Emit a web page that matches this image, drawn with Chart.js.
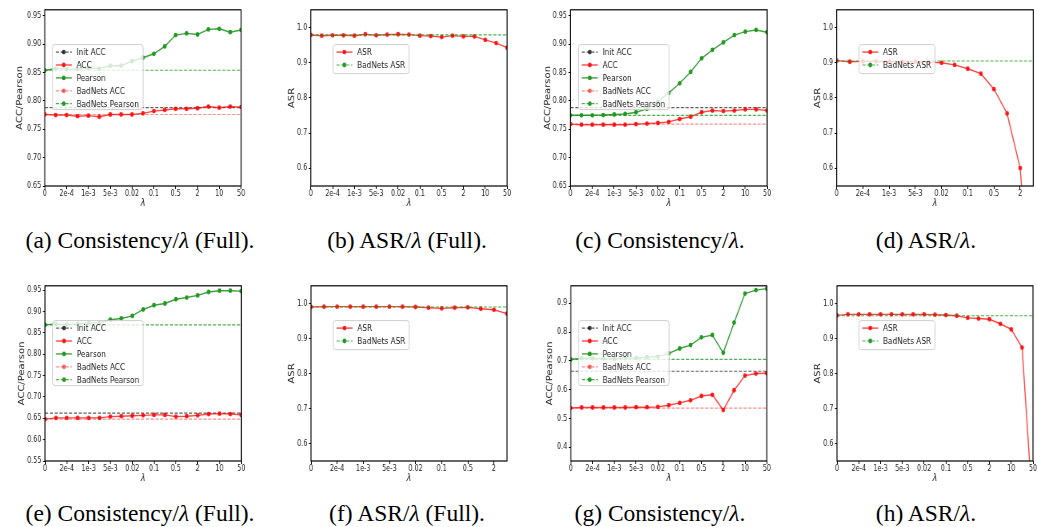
<!DOCTYPE html>
<html><head><meta charset="utf-8">
<script src="https://cdn.jsdelivr.net/npm/chart.js@4"></script>
<style>
html,body{margin:0;padding:0;background:#fff;}
body{width:1037px;height:527px;position:relative;overflow:hidden;}
canvas{position:absolute;transform-origin:0 0;}
.cap{position:absolute;font-family:"Liberation Serif","Times New Roman",serif;font-size:23.5px;line-height:24px;color:#000;white-space:nowrap;transform:translateX(-50%);}
</style></head><body>
<script>
// ---------- categories ----------
const lambdas = ['0','1e-4','2e-4','5e-4','1e-3','2e-3','5e-3','0.01','0.02','0.05','0.1','0.2','0.5','1','2','5','10','20','50'];
const lambdasShort = lambdas.slice(0, 16);

// ---------- (a) Consistency (Full) ----------
const aAcc = [0.776,0.775,0.775,0.773,0.774,0.772,0.776,0.776,0.776,0.778,0.782,0.784,0.786,0.786,0.787,0.790,0.788,0.790,0.789];
const aPearson = [0.8535,0.857,0.856,0.856,0.858,0.857,0.862,0.862,0.870,0.876,0.883,0.896,0.916,0.919,0.917,0.926,0.927,0.921,0.925];
const aInitAcc = 0.788, aBadAcc = 0.776, aBadPearson = 0.854;

// ---------- (b) ASR (Full) ----------
const bAsr = [0.979,0.977,0.978,0.978,0.977,0.981,0.978,0.980,0.981,0.980,0.977,0.976,0.973,0.977,0.975,0.975,0.965,0.956,0.943];
const bBadAsr = 0.979;

// ---------- (c) Consistency ----------
const cAcc = [0.759,0.758,0.758,0.758,0.758,0.758,0.759,0.760,0.761,0.763,0.768,0.772,0.780,0.783,0.782,0.783,0.785,0.785,0.783];
const cPearson = [0.7746,0.7746,0.7746,0.775,0.776,0.777,0.780,0.786,0.798,0.814,0.831,0.851,0.875,0.890,0.903,0.916,0.922,0.925,0.921];
const cInitAcc = 0.788, cBadAcc = 0.759, cBadPearson = 0.7746;

// ---------- (d) ASR ----------
const dAsr = [0.906,0.903,0.904,0.904,0.903,0.903,0.903,0.902,0.900,0.894,0.883,0.869,0.825,0.756,0.601,0.11];
const dBadAsr = 0.905;

// ---------- (e) Consistency (Full) ----------
const eAcc = [0.648,0.651,0.651,0.651,0.651,0.651,0.654,0.655,0.656,0.657,0.658,0.658,0.654,0.655,0.657,0.660,0.661,0.660,0.658];
const ePearson = [0.869,0.871,0.870,0.871,0.873,0.874,0.881,0.884,0.890,0.905,0.915,0.919,0.929,0.933,0.938,0.946,0.949,0.949,0.948];
const eInitAcc = 0.662, eBadAcc = 0.648, eBadPearson = 0.869;

// ---------- (f) ASR (Full) ----------
const fAsr = [0.990,0.991,0.991,0.991,0.991,0.991,0.991,0.991,0.990,0.988,0.986,0.988,0.989,0.985,0.982,0.971];
const fBadAsr = 0.990;

// ---------- (g) Consistency ----------
const gAcc = [0.536,0.538,0.538,0.538,0.538,0.538,0.539,0.539,0.540,0.546,0.554,0.563,0.578,0.582,0.529,0.598,0.649,0.656,0.657];
const gPearson = [0.705,0.709,0.709,0.708,0.707,0.709,0.710,0.713,0.715,0.726,0.743,0.755,0.782,0.790,0.728,0.833,0.934,0.946,0.951];
const gInitAcc = 0.664, gBadAcc = 0.536, gBadPearson = 0.705;

// ---------- (h) ASR ----------
const hAsr = [0.966,0.969,0.969,0.969,0.969,0.969,0.969,0.969,0.969,0.968,0.967,0.965,0.959,0.957,0.955,0.942,0.926,0.874,0.40];
const hBadAsr = 0.965;

// ---------- styles ----------
const S = 0.8;   // horizontal compression of the figure
const FONT = '"DejaVu Sans", sans-serif';
const RED_L = 'rgba(255,0,0,0.72)', RED_P = 'rgba(255,0,0,0.85)';
const GRN_L = 'rgba(30,145,30,0.85)', GRN_P = 'rgba(30,150,30,0.95)';
const RED_D = 'rgba(255,0,0,0.45)', GRN_D = 'rgba(20,150,20,0.75)', GRY_D = 'rgba(0,0,0,0.62)';

function flat(labels, v) { return [{x: labels[0], y: v}, {x: labels[labels.length - 1], y: v}]; }
function solid(label, data, lc, pc) {
  return {label, data, borderColor: lc, pointBackgroundColor: pc, pointBorderWidth: 0, pointRadius: 2.4,
          borderWidth: 1.4, tension: 0, legendMarker: pc};
}
function dashed(label, data, lc, mc) {
  return {label, data, borderColor: lc, borderDash: [4, 2], borderWidth: 1.2, pointRadius: 0, tension: 0, legendMarker: mc};
}
function consDatasets(labels, acc, pearson, init, badAcc, badPearson) {
  return [
    dashed('Init ACC', flat(labels, init), GRY_D, 'rgba(0,0,0,0.75)'),
    solid('ACC', acc, RED_L, RED_P),
    solid('Pearson', pearson, GRN_L, GRN_P),
    dashed('BadNets ACC', flat(labels, badAcc), RED_D, 'rgba(255,0,0,0.6)'),
    dashed('BadNets Pearson', flat(labels, badPearson), GRN_D, GRN_P)
  ];
}
function asrDatasets(labels, asr, bad) {
  return [
    solid('ASR', asr, RED_L, RED_P),
    dashed('BadNets ASR', flat(labels, bad), GRN_D, GRN_P)
  ];
}

const TOP = {pt: 8.5, pb: 185.5}, BOT = {pt: 284.5, pb: 460.5};
const panels = [
  {L: 15.2, pl: 45, pr: 241.3, row: TOP, labels: lambdas, ymin: 0.65, ymax: 0.9605, step: 0.05, dec: 2, ytitle: 'ACC/Pearson',
   ds: consDatasets(lambdas, aAcc, aPearson, aInitAcc, aBadAcc, aBadPearson), leg: {dx: 7.7, dy: 34.8, w: 90.6, h: 65}},
  {L: 287.2, pl: 311, pr: 507.3, row: TOP, labels: lambdas, ymin: 0.55, ymax: 1.0505, step: 0.1, dec: 1, ytitle: 'ASR',
   ds: asrDatasets(lambdas, bAsr, bBadAsr), leg: {dx: 22.3, dy: 34.8, w: 76, h: 29}},
  {L: 543.2, pl: 570.7, pr: 767.3, row: TOP, labels: lambdas, ymin: 0.65, ymax: 0.9605, step: 0.05, dec: 2, ytitle: 'ACC/Pearson',
   ds: consDatasets(lambdas, cAcc, cPearson, cInitAcc, cBadAcc, cBadPearson), leg: {dx: 8, dy: 34.8, w: 90.6, h: 65}},
  {L: 813, pl: 836.7, pr: 1033.3, row: TOP, labels: lambdasShort, ymin: 0.55, ymax: 1.0505, step: 0.1, dec: 1, ytitle: 'ASR',
   ds: asrDatasets(lambdasShort, dAsr, dBadAsr), leg: {dx: 22.3, dy: 34.8, w: 76, h: 29}},
  {L: 17, pl: 45, pr: 241.3, row: BOT, labels: lambdas, ymin: 0.55, ymax: 0.9605, step: 0.05, dec: 2, ytitle: 'ACC/Pearson',
   ds: consDatasets(lambdas, eAcc, ePearson, eInitAcc, eBadAcc, eBadPearson), leg: {dx: 7.7, dy: 34.8, w: 90.6, h: 65}},
  {L: 287, pl: 311, pr: 507, row: BOT, labels: lambdasShort, ymin: 0.55, ymax: 1.0505, step: 0.1, dec: 1, ytitle: 'ASR',
   ds: asrDatasets(lambdasShort, fAsr, fBadAsr), leg: {dx: 22.3, dy: 34.8, w: 76, h: 29}},
  {L: 545.2, pl: 571, pr: 767, row: BOT, labels: lambdas, ymin: 0.352, ymax: 0.961, step: 0.1, dec: 1, ytitle: 'ACC/Pearson',
   ds: consDatasets(lambdas, gAcc, gPearson, gInitAcc, gBadAcc, gBadPearson), leg: {dx: 7.7, dy: 34.8, w: 90.6, h: 65}},
  {L: 813, pl: 837, pr: 1033, row: BOT, labels: lambdas, ymin: 0.55, ymax: 1.0505, step: 0.1, dec: 1, ytitle: 'ASR',
   ds: asrDatasets(lambdas, hAsr, hBadAsr), leg: {dx: 22, dy: 34.8, w: 76, h: 29}}
];

const captions = [
  {html: '(a) Consistency/<i>λ</i> (Full).', x: 140, y: 240},
  {html: '(b) ASR/<i>λ</i> (Full).', x: 407, y: 240},
  {html: '(c) Consistency/<i>λ</i>.', x: 660, y: 240},
  {html: '(d) ASR/<i>λ</i>.', x: 926, y: 240},
  {html: '(e) Consistency/<i>λ</i> (Full).', x: 140, y: 513},
  {html: '(f) ASR/<i>λ</i> (Full).', x: 407, y: 513},
  {html: '(g) Consistency/<i>λ</i>.', x: 660, y: 513},
  {html: '(h) ASR/<i>λ</i>.', x: 926, y: 513}
];

function framePlugin(leg) {
  return {
    id: 'frameLegend',
    afterDatasetsDraw(chart) {
      const ca = chart.chartArea, ctx = chart.ctx;
      const bx = ca.left + leg.dx / S, by = ca.top + leg.dy, bw = leg.w / S, bh = leg.h;
      ctx.save();
      ctx.beginPath();
      if (ctx.roundRect) ctx.roundRect(bx, by, bw, bh, 3); else ctx.rect(bx, by, bw, bh);
      ctx.fillStyle = 'rgba(255,255,255,0.8)';
      ctx.fill();
      ctx.lineWidth = 1;
      ctx.strokeStyle = 'rgba(200,200,200,0.9)';
      ctx.stroke();
      chart.data.datasets.forEach((ds, i) => {
        const cy = by + 7.5 + 12.9 * i;
        const x0 = bx + 3.3 / S, x1 = bx + 19.3 / S;
        ctx.beginPath();
        ctx.setLineDash(ds.borderDash || []);
        ctx.strokeStyle = ds.borderColor;
        ctx.lineWidth = ds.borderWidth;
        ctx.moveTo(x0, cy); ctx.lineTo(x1, cy); ctx.stroke();
        ctx.setLineDash([]);
        ctx.beginPath();
        ctx.arc((x0 + x1) / 2, cy, 2.4, 0, Math.PI * 2);
        ctx.fillStyle = ds.legendMarker;
        ctx.fill();
        ctx.fillStyle = '#222';
        ctx.font = '9.2px ' + FONT;
        ctx.textBaseline = 'middle';
        ctx.textAlign = 'left';
        ctx.fillText(ds.label, bx + 24 / S, cy + 0.5);
      });
      ctx.restore();
    },
    afterDraw(chart) {
      const ca = chart.chartArea, ctx = chart.ctx;
      ctx.save();
      ctx.strokeStyle = '#000';
      ctx.lineWidth = 1.2;
      ctx.strokeRect(ca.left, ca.top, ca.right - ca.left, ca.bottom - ca.top);
      ctx.restore();
    }
  };
}

panels.forEach(p => {
  const padTop = 6, padRight = 8;
  const plotH = p.row.pb - p.row.pt;
  const yAxisW = (p.pl - p.L) / S;
  const chartW = (p.pr - p.pl) / S;
  const Wc = Math.ceil(yAxisW + chartW + padRight);
  const padR = Wc - yAxisW - chartW;
  const Hc = Math.ceil(padTop + plotH + 23);
  const xAxisH = Hc - padTop - plotH;
  const cv = document.createElement('canvas');
  cv.width = Wc; cv.height = Hc;
  cv.style.left = p.L + 'px';
  cv.style.top = (p.row.pt - padTop) + 'px';
  cv.style.width = Wc + 'px';
  cv.style.height = Hc + 'px';
  cv.style.transform = 'scaleX(' + S + ')';
  document.body.appendChild(cv);
  p.ds.forEach((d, i) => { d.order = -i; d.clip = 0; });
  new Chart(cv, {
    type: 'line',
    data: {labels: p.labels, datasets: p.ds},
    options: {
      responsive: false, animation: false, devicePixelRatio: 1, events: [],
      layout: {padding: {top: padTop, right: padR, left: 0, bottom: 0}},
      plugins: {legend: {display: false}, tooltip: {enabled: false}},
      scales: {
        x: {
          type: 'category', offset: false,
          grid: {display: true, drawOnChartArea: false, drawTicks: true, tickLength: 3,
                 color: c => (c.index % 2 === 0 ? '#000' : 'rgba(0,0,0,0)'), lineWidth: 1},
          border: {display: false},
          ticks: {autoSkip: false, maxRotation: 0, minRotation: 0, padding: 0, color: '#222',
                  font: {family: FONT, size: 8}, callback: (v, i) => (i % 2 === 0 ? p.labels[i] : '')},
          title: {display: true, text: 'λ', color: '#222', padding: 0, font: {family: FONT, size: 10, style: 'italic'}},
          afterFit: s => { s.height = xAxisH; }
        },
        y: {
          type: 'linear', min: p.ymin, max: p.ymax,
          grid: {display: true, drawOnChartArea: false, drawTicks: true, tickLength: 2.5, color: '#000', lineWidth: 1},
          border: {display: false},
          ticks: {stepSize: p.step, includeBounds: false, padding: 2, color: '#222',
                  font: {family: FONT, size: 8}, callback: v => Number(v).toFixed(p.dec)},
          title: {display: true, text: p.ytitle, color: '#222', padding: 0, font: {family: FONT, size: 10}},
          afterFit: s => { s.width = yAxisW; }
        }
      }
    },
    plugins: [framePlugin(p.leg)]
  });
});

captions.forEach(c => {
  const d = document.createElement('div');
  d.className = 'cap';
  d.innerHTML = c.html;
  d.style.left = c.x + 'px';
  d.style.top = (c.y - 12) + 'px';
  document.body.appendChild(d);
});
</script>
</body></html>
